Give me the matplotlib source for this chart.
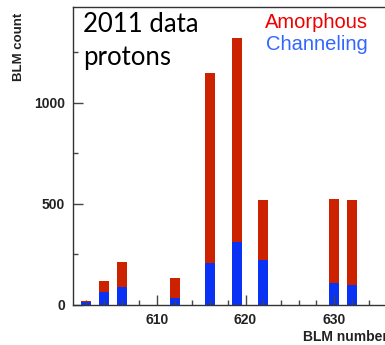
import matplotlib
matplotlib.use('Agg')
import matplotlib.pyplot as plt
from matplotlib.ticker import MultipleLocator

# BLM positions and counts
blm_number = [602, 604, 606, 612, 616, 619, 622, 630, 632]
amorphous = [20, 118, 211, 132, 1145, 1319, 520, 523, 520]
channeling = [13, 66, 90, 36, 209, 312, 222, 107, 99]

red = '#cc2200'
blue = '#0a32f5'

plt.rcParams['font.family'] = ['Liberation Sans', 'DejaVu Sans']

fig = plt.figure(figsize=(3.85, 3.45), dpi=100)
ax = fig.add_axes([0.190, 0.116, 0.838, 0.865])

# amorphous drawn first, channeling overlaid in front
ax.bar(blm_number, amorphous, width=1.12, color=red, linewidth=0)
ax.bar(blm_number, channeling, width=1.12, color=blue, linewidth=0)

ax.set_xlim(600.5, 637)
ax.set_ylim(0, 1475)

ax.xaxis.set_major_locator(MultipleLocator(10))
ax.xaxis.set_minor_locator(MultipleLocator(2))
ax.yaxis.set_major_locator(MultipleLocator(500))
ax.yaxis.set_minor_locator(MultipleLocator(250))
ax.tick_params(which='both', direction='in', color='#444444', width=1.0)
ax.tick_params(which='major', length=7.2, pad=5.8, labelsize=10)
ax.tick_params(which='minor', length=3.6)
for lab in ax.get_xticklabels() + ax.get_yticklabels():
    lab.set_fontweight('bold')
    lab.set_color('#222222')
for sp in ax.spines.values():
    sp.set_color('#333333')
    sp.set_linewidth(1.0)

fig.text(19 / 385, 1 - 13 / 345, 'BLM count', rotation=90, ha='center',
         va='top', fontsize=9.5, fontweight='bold', color='#222222')
# the reference crops this label at the right edge
fig.text(303 / 385, 4 / 345, 'BLM number', ha='left', va='baseline',
         fontsize=10, fontweight='bold', color='#222222')

fig.text(83 / 385, 1 - 32 / 345, '2011 data', ha='left', va='baseline',
         fontsize=18.5, family='Lato', color='black')
fig.text(83 / 385, 1 - 65 / 345, 'protons', ha='left', va='baseline',
         fontsize=18.5, family='Lato', color='black')

fig.text(265 / 385, 1 - 28 / 345, 'Amorphous', ha='left', va='baseline',
         fontsize=14.5, color='#ee0000')
fig.text(266 / 385, 1 - 50 / 345, 'Channeling', ha='left', va='baseline',
         fontsize=14.5, color='#3366ff')

fig.savefig('out.png', dpi=100)
